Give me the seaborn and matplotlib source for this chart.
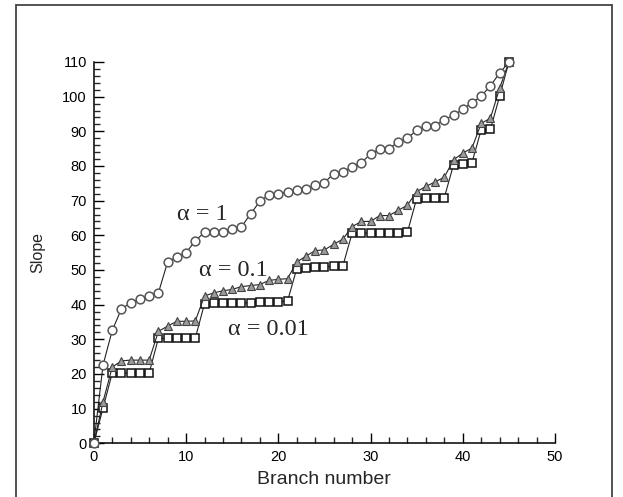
import numpy as np
import pandas as pd
import matplotlib
matplotlib.use("Agg")
import matplotlib.pyplot as plt
import seaborn as sns
from matplotlib.lines import Line2D
from matplotlib.ticker import MultipleLocator

branch = list(range(46))
slope_a1 = [0, 22.6, 32.6, 38.8, 40.5, 41.7, 42.4, 43.4, 52.3, 53.8,
            55.0, 58.4, 60.9, 60.9, 60.9, 61.7, 62.4, 66.2, 69.8, 71.7,
            72.0, 72.5, 73.0, 73.3, 74.4, 75.2, 77.8, 78.3, 79.8, 81.0,
            83.4, 85.0, 85.0, 86.9, 88.0, 90.3, 91.5, 91.6, 93.4, 94.6,
            96.4, 98.3, 100.1, 103.2, 106.8, 110.0]
slope_a01 = [0, 12.0, 22.0, 23.8, 24.0, 24.0, 24.0, 32.3, 33.8, 35.2,
             35.2, 35.3, 42.5, 43.4, 44.0, 44.4, 45.2, 45.5, 45.8, 47.0,
             47.3, 47.5, 52.3, 54.0, 55.6, 55.8, 57.4, 58.9, 62.5, 64.0,
             64.0, 65.7, 65.7, 67.2, 68.7, 72.6, 74.1, 75.4, 76.8, 81.8,
             83.7, 85.2, 92.3, 93.8, 102.5, 110.0]
slope_a001 = [0, 10.2, 20.3, 20.3, 20.3, 20.3, 20.3, 30.3, 30.3, 30.3,
              30.3, 30.3, 40.3, 40.4, 40.4, 40.5, 40.5, 40.6, 40.7, 40.8,
              40.9, 41.0, 50.4, 50.6, 50.8, 50.9, 51.1, 51.2, 60.6, 60.6,
              60.7, 60.7, 60.8, 60.8, 60.9, 70.6, 70.7, 70.8, 70.9, 80.4,
              80.5, 81.0, 90.5, 90.6, 100.2, 110.0]
labels = ["α = 1", "α = 0.1", "α = 0.01"]
label_pos = [(9.0, 64.3), (11.4, 48.2), (14.5, 31.3)]

df = pd.DataFrame({"branch": branch * 3,
                   "slope": slope_a1 + slope_a01 + slope_a001,
                   "series": ["a1"] * 46 + ["a01"] * 46 + ["a001"] * 46})

sns.set_style("ticks")
plt.rcParams["font.family"] = ["Liberation Sans", "DejaVu Sans"]

fig = plt.figure(figsize=(6.23, 4.97), dpi=100)
ax = fig.add_axes([0.1506, 0.108, 0.8909 - 0.1506, 0.8753 - 0.108])

styles = {
    "a1": dict(marker="o", markersize=6.3, markerfacecolor="white",
               markeredgecolor="#555555", markeredgewidth=1.1),
    "a01": dict(marker="^", markersize=6.0, markerfacecolor="#9a9a9a",
                markeredgecolor="#444444", markeredgewidth=0.8),
    "a001": dict(marker="s", markersize=5.2, markerfacecolor="white",
                 markeredgecolor="#111111", markeredgewidth=1.1),
}
for key in ["a001", "a01", "a1"]:
    sub = df[df["series"] == key]
    sns.lineplot(data=sub, x="branch", y="slope", ax=ax, color="#222222",
                 linewidth=0.8, estimator=None, sort=False, legend=False,
                 clip_on=False, zorder=3, **styles[key])

ax.set_xlim(0, 50)
ax.set_ylim(0, 110)
ax.xaxis.set_major_locator(MultipleLocator(10))
ax.xaxis.set_minor_locator(MultipleLocator(2))
ax.yaxis.set_major_locator(MultipleLocator(10))
ax.yaxis.set_minor_locator(MultipleLocator(2))
ax.tick_params(which="major", direction="in", length=7.5, width=1.0,
               labelsize=10.5, pad=5, colors="black")
ax.tick_params(which="minor", direction="in", length=4.5, width=1.0)
for s in ["top", "right"]:
    ax.spines[s].set_visible(False)
for s in ["left", "bottom"]:
    ax.spines[s].set_linewidth(1.1)
    ax.spines[s].set_color("black")

ax.set_xlabel("Branch number", fontsize=14, labelpad=5)
ax.set_ylabel("Slope", fontsize=11.5, labelpad=12)

for lab, (x, y) in zip(labels, label_pos):
    ax.text(x, y, lab, fontsize=17.5, family=["Liberation Serif", "DejaVu Serif"],
            ha="left", va="baseline")

# outer frame
fig.add_artist(Line2D([16 / 623, 16 / 623], [0, 1 - 5 / 497], color="#444444",
                      lw=1.3, transform=fig.transFigure))
fig.add_artist(Line2D([16 / 623, 612 / 623], [1 - 5 / 497, 1 - 5 / 497],
                      color="#444444", lw=1.3, transform=fig.transFigure))
fig.add_artist(Line2D([612 / 623, 612 / 623], [0, 1 - 5 / 497], color="#444444",
                      lw=1.3, transform=fig.transFigure))

fig.savefig("out.png", dpi=100)
